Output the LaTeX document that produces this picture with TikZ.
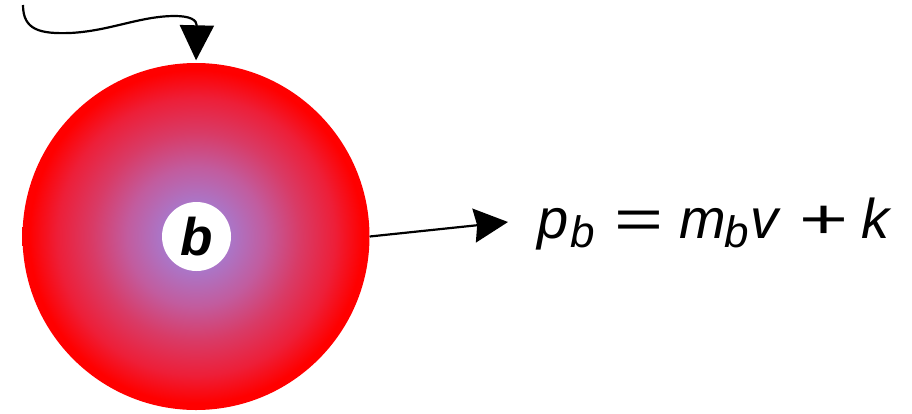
\documentclass[tikz,border=0pt]{standalone}
\usepackage{fontspec}
\setmainfont{Liberation Sans}
\usetikzlibrary{arrows.meta}
\pgfdeclareradialshading{ballshade}{\pgfpoint{0bp}{0bp}}{%
  rgb(0bp)=(0.61,0.49,0.82);
  rgb(5bp)=(0.67,0.46,0.78);
  rgb(10bp)=(0.76,0.36,0.62);
  rgb(15bp)=(0.85,0.23,0.40);
  rgb(20bp)=(0.93,0.12,0.22);
  rgb(24bp)=(1,0,0);
  rgb(50bp)=(1,0,0)}
\newcommand\eqpart[2]{\rlap{\hspace*{#1pt}#2}}
\newcommand\subpart[1]{\raisebox{-9pt}{\fontsize{44}{46}\selectfont\itshape #1}}
\tikzset{
  conn/.style={line width=2.2pt},
  ball/.style={circle, minimum size=347pt, inner sep=0pt, shading=ballshade},
  core/.style={circle, fill=white, minimum size=69pt, inner sep=0pt,
    font=\fontsize{53}{55}\selectfont\bfseries\itshape},
  eqn/.style={anchor=base west, inner sep=0pt, font=\fontsize{56}{58}\selectfont}
}
\begin{document}
\begin{tikzpicture}[x=1pt,y=-1pt]
\useasboundingbox (0,0) rectangle (912,413);
\node[ball] (ball) at (196,236.5) {};
\node[core] (core) at (196.5,236.5) {b};
\coordinate (start) at (23,5);
\draw[conn, -{Triangle[length=35pt,width=34pt]}, shorten >=2.5pt] (start)
   .. controls (23,30) and (40,34) .. (70,33)
   .. controls (110,31) and (140,16) .. (175,16)
   .. controls (190,16) and (197,20) .. (ball.north);
\coordinate (tip) at (508,222);
\draw[conn, -{Stealth[length=34pt,width=34pt,inset=3pt]}] (ball.east) -- (tip);
\node[eqn] (eq) at (537,238) {%
  \eqpart{0}{\itshape p}%
  \eqpart{33}{\subpart{b}}%
  \eqpart{77}{\scalebox{1.5}[1]{=}}%
  \eqpart{142}{\itshape m}%
  \eqpart{187}{\subpart{b}}%
  \eqpart{213}{\itshape v}%
  \eqpart{262}{\scalebox{1.5}[1]{+}}%
  \eqpart{324}{\itshape k}%
  \hspace*{352pt}};
\end{tikzpicture}
\end{document}
